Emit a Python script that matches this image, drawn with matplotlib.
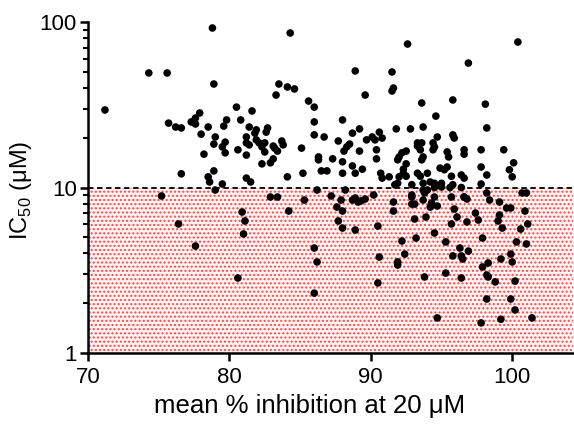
import matplotlib
matplotlib.use("Agg")
import matplotlib.pyplot as plt
from matplotlib.ticker import LogLocator, NullFormatter, FixedLocator
import numpy as np

plt.rcParams['font.family'] = ['Liberation Sans', 'DejaVu Sans']
plt.rcParams['mathtext.fontset'] = 'custom'
plt.rcParams['mathtext.rm'] = 'Liberation Sans'
plt.rcParams['hatch.color'] = '#ff4848'
plt.rcParams['hatch.linewidth'] = 1.0

# mean % inhibition at 20 uM
inhibition = [
    71.2, 74.3, 75.6, 78.8, 84.3, 78.9, 75.7, 76.2, 76.6, 77.3, 77.6, 77.6, 77.9, 78.0, 78.5,
    78.2, 78.9, 79.0, 79.6, 79.8, 80.5, 80.8, 79.7, 79.5, 79.7, 80.6, 81.2, 81.2, 81.2, 76.6,
    78.9, 78.5, 78.6, 79.5, 79.0, 75.2, 81.2, 81.6, 81.4, 81.9, 81.8, 82.7, 82.6, 81.4, 81.9,
    82.1, 82.5, 82.3, 82.5, 83.1, 83.2, 83.4, 83.7, 83.8, 82.3, 82.9, 83.1, 85.1, 85.2, 84.1,
    81.5, 83.3, 83.5, 84.1, 84.6, 85.6, 86.0, 86.0, 86.0, 86.3, 86.3, 86.5, 86.9, 86.7, 86.2,
    82.9, 83.4, 85.3,
    92.6, 100.4, 96.9, 88.9, 91.5, 91.5, 91.6, 89.6, 93.6, 95.8, 98.1, 94.6, 98.2, 88.0, 87.7,
    88.7, 89.2, 88.1, 88.3, 88.5, 89.2, 89.7, 90.1, 90.3, 90.6, 90.8, 90.4, 90.4, 91.8, 92.8,
    93.7, 87.3, 88.0, 88.0, 88.7, 88.9, 89.4, 90.7, 90.8, 91.3, 92.2, 92.0, 91.9, 92.5, 93.3,
    93.6, 93.3, 93.5, 93.6, 93.7, 94.4, 94.5, 94.4, 94.7, 95.4, 95.5, 95.8, 95.9, 96.6, 96.6,
    97.8, 97.8, 98.2, 99.4, 100.1, 99.8, 100.0, 92.5, 92.3, 92.3, 92.5, 92.0, 93.3, 93.5, 94.0,
    94.9, 95.2, 95.4, 95.7, 96.4, 96.6, 91.7, 91.9, 92.9, 93.7, 94.2, 94.5, 95.0, 95.8, 97.8,
    98.2, 100.7, 101.0, 93.7, 93.8, 92.9, 96.6, 88.2, 87.2, 88.9, 89.6,
    76.4, 77.6, 80.9, 81.1, 81.0, 80.6, 84.2, 87.9, 87.6, 88.0, 87.7, 88.0, 88.7, 89.1, 89.3,
    88.9, 90.2, 91.6, 91.6, 90.5, 86.0, 86.2, 86.0, 90.6, 91.9, 91.9, 90.5, 92.9, 92.9, 93.1,
    93.7, 94.0, 94.5, 95.0, 95.6, 94.2, 94.3, 94.7, 94.5, 95.7, 96.6, 96.8, 96.4, 98.4, 95.9,
    96.1, 95.7, 93.1, 93.9, 96.8, 97.4, 97.6, 99.1, 99.6, 99.9, 99.1, 99.0, 99.3, 100.9, 100.6,
    101.1, 100.3, 101.0, 94.5, 95.3, 93.2, 92.2, 92.4, 97.9, 96.3, 96.9, 96.4, 96.5, 95.8, 97.9,
    98.3, 98.2, 98.3, 98.8, 99.2, 99.9, 100.0, 95.3, 93.8, 96.4, 100.2, 98.2, 99.9, 100.2, 94.7,
    97.8, 99.2, 101.4,
]

# IC50 (uM)
ic50 = [
    29.4, 49.2, 49.2, 92.0, 85.8, 42.2, 24.5, 23.2, 22.9, 24.9, 24.2, 26.3, 28.2, 21.0, 23.2,
    15.9, 18.3, 20.2, 23.5, 25.6, 30.6, 25.6, 18.8, 17.6, 16.2, 16.9, 20.2, 18.6, 15.7, 12.1,
    12.6, 11.6, 10.8, 10.5, 9.66, 8.89, 11.4, 29.0, 23.2, 22.3, 21.3, 22.9, 21.6, 18.1, 19.4,
    18.6, 18.6, 17.6, 16.4, 17.8, 17.3, 16.6, 19.1, 18.1, 13.9, 14.1, 14.9, 17.3, 12.2, 11.6,
    10.8, 36.2, 42.2, 40.5, 39.4, 33.3, 30.6, 24.9, 20.8, 15.3, 14.7, 12.6, 12.6, 20.2, 9.66,
    8.76, 8.76, 8.40,
    73.6, 75.7, 56.5, 50.6, 49.9, 38.3, 39.9, 36.2, 32.4, 33.8, 31.9, 27.0, 22.9, 25.6, 19.1,
    21.3, 22.6, 16.6, 17.6, 18.3, 16.6, 19.4, 20.2, 19.4, 21.6, 19.9, 16.9, 14.9, 22.6, 22.6,
    23.2, 14.9, 14.3, 12.2, 13.5, 12.2, 12.9, 12.2, 11.4, 11.6, 16.2, 15.3, 14.7, 16.6, 18.6,
    18.6, 17.8, 16.9, 14.7, 15.3, 18.6, 17.6, 16.9, 20.2, 16.4, 15.3, 20.8, 19.9, 16.9, 15.9,
    16.9, 13.3, 11.9, 16.9, 14.1, 12.8, 11.6, 13.9, 12.9, 12.2, 11.7, 11.6, 12.2, 11.7, 12.2,
    13.1, 12.8, 13.3, 11.7, 11.9, 11.4, 10.4, 10.6, 10.4, 10.6, 10.8, 10.6, 10.6, 10.4, 10.5,
    9.27, 9.27, 9.27, 9.66, 9.27, 8.76, 8.76, 9.66, 8.89, 8.64, 8.52,
    6.02, 4.43, 7.11, 6.28, 5.24, 2.84, 7.21, 8.40, 7.62, 7.21, 6.28, 5.69, 8.40, 8.17, 8.29,
    5.54, 9.01, 8.17, 7.21, 5.85, 4.31, 3.55, 2.30, 3.80, 3.55, 3.40, 2.65, 9.01, 7.94, 7.94,
    8.40, 9.66, 10.0, 10.07, 10.0, 7.62, 8.06, 7.73, 8.76, 8.76, 8.76, 8.52, 10.0, 8.40, 7.41,
    6.63, 6.02, 6.45, 6.63, 6.19, 7.01, 6.36, 8.17, 7.52, 7.52, 6.82, 6.28, 5.69, 7.21, 5.61,
    6.02, 4.69, 4.56, 5.31, 4.69, 4.95, 4.75, 3.96, 4.95, 4.31, 4.13, 3.86, 3.70, 3.86, 3.31,
    3.50, 2.96, 2.88, 2.69, 3.70, 3.96, 3.55, 3.04, 2.88, 2.84, 2.72, 2.12, 2.12, 1.82, 1.63,
    1.52, 1.60, 1.63,
]

x_ticks = [70, 80, 90, 100]
y_ticks = [1, 10, 100]
y_tick_labels = ['1', '10', '100']
threshold = 10
x_range = (70, 104.3)
y_range = (1, 100)

fig = plt.figure(figsize=(5.74, 4.28), dpi=100)
ax = fig.add_axes([0.1533, 0.1752, 0.8450, 0.7734])

ax.set_yscale('log')
ax.set_xlim(*x_range)
ax.set_ylim(*y_range)

# shaded region below threshold
ax.fill_between(x_range, [y_range[0]] * 2, [threshold] * 2, facecolor='#fff4f4',
                edgecolor='#ff4848', hatch='....', linewidth=0, zorder=1)
ax.axhline(threshold, color='black', linestyle=(0, (3, 2)), linewidth=1.3, zorder=2)

ax.scatter(inhibition, ic50, s=30, color='black', edgecolors='none', zorder=3, clip_on=False)

ax.xaxis.set_major_locator(FixedLocator(x_ticks))
ax.yaxis.set_major_locator(FixedLocator(y_ticks))
ax.set_yticklabels(y_tick_labels)
ax.yaxis.set_minor_locator(LogLocator(base=10, subs=np.arange(2, 10)))
ax.yaxis.set_minor_formatter(NullFormatter())

for s in ['top', 'right']:
    ax.spines[s].set_visible(False)
for s in ['left', 'bottom']:
    ax.spines[s].set_linewidth(1.8)

ax.tick_params(axis='both', which='major', length=6, width=1.8, labelsize=16, pad=2)
ax.tick_params(axis='x', which='major', pad=4)
ax.tick_params(axis='y', which='minor', length=3.5, width=1.5)

ax.set_xlabel('mean % inhibition at 20 μM', fontsize=18.5)
ax.xaxis.set_label_coords(0.457, -0.125)
ax.set_ylabel('IC$_{\\mathregular{50}}$ (μM)', fontsize=17)
ax.yaxis.set_label_coords(-0.112, 0.49)

fig.savefig('out.png', dpi=100)
